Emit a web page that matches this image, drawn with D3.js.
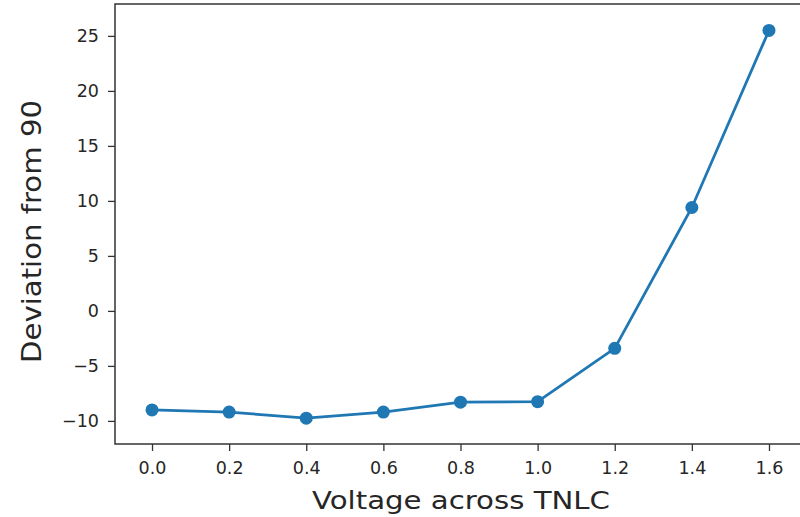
<!DOCTYPE html>
<html>
<head>
<meta charset="utf-8">
<script src="https://cdn.jsdelivr.net/npm/d3@7"></script>
<style>
  html, body { margin: 0; padding: 0; background: #fff; }
  svg { display: block; }
  text { font-family: "DejaVu Sans", sans-serif; }
</style>
</head>
<body>
<svg id="chart" width="800" height="517"></svg>
<script>
const voltages = [0.0, 0.2, 0.4, 0.6, 0.8, 1.0, 1.2, 1.4, 1.6];
const deviations = [-9.0, -9.2, -9.75, -9.2, -8.3, -8.25, -3.4, 9.4, 25.5];
const xTicks = [0.0, 0.2, 0.4, 0.6, 0.8, 1.0, 1.2, 1.4, 1.6];
const yTicks = [-10, -5, 0, 5, 10, 15, 20, 25];
const xLabel = "Voltage across TNLC";
const yLabel = "Deviation from 90";

const svg = d3.select("#chart");
const plotLeft = 115, plotRight = 806, plotTop = 4, plotBottom = 444;

const x = d3.scaleLinear().domain([-0.096, 1.696]).range([plotLeft, plotRight]);
const y = d3.scaleLinear().domain([-12.1, 27.9]).range([plotBottom, plotTop]);

const axisColor = "#333";

// X axis
const xAxis = svg.append("g")
  .attr("transform", `translate(0,${plotBottom})`)
  .call(d3.axisBottom(x).tickValues(xTicks).tickFormat(d3.format(".1f")).tickSize(7).tickPadding(11));
// Y axis
const yAxis = svg.append("g")
  .attr("transform", `translate(${plotLeft},0)`)
  .call(d3.axisLeft(y).tickValues(yTicks).tickFormat(d => d < 0 ? "\u2212" + Math.abs(d) : d).tickSize(7).tickPadding(9));

[xAxis, yAxis].forEach(g => {
  g.select(".domain").remove();
  g.selectAll(".tick line").attr("stroke", axisColor).attr("stroke-width", 1.3);
  g.selectAll(".tick text").attr("fill", "#262626").style("font-size", "17.5px").style("font-family", "DejaVu Sans");
});

// Spines
svg.append("rect")
  .attr("x", plotLeft).attr("y", plotTop)
  .attr("width", plotRight - plotLeft).attr("height", plotBottom - plotTop)
  .attr("fill", "none").attr("stroke", axisColor).attr("stroke-width", 1.5);

// Line
const line = d3.line().x((d, i) => x(voltages[i])).y(d => y(d));
svg.append("path")
  .datum(deviations)
  .attr("d", line)
  .attr("fill", "none")
  .attr("stroke", "#1f77b4")
  .attr("stroke-width", 2.8);

svg.selectAll("circle.pt")
  .data(deviations)
  .enter().append("circle")
  .attr("class", "pt")
  .attr("cx", (d, i) => x(voltages[i]))
  .attr("cy", d => y(d))
  .attr("r", 6.5)
  .attr("fill", "#1f77b4");

// Axis labels
svg.append("text")
  .attr("x", 461).attr("y", 509)
  .attr("text-anchor", "middle")
  .attr("fill", "#262626")
  .style("font-size", "25px")
  .attr("textLength", 298)
  .attr("lengthAdjust", "spacingAndGlyphs")
  .text(xLabel);

svg.append("text")
  .attr("transform", "translate(41,231.5) rotate(-90)")
  .attr("text-anchor", "middle")
  .attr("fill", "#262626")
  .style("font-size", "26px")
  .attr("textLength", 263)
  .attr("lengthAdjust", "spacingAndGlyphs")
  .text(yLabel);
</script>
</body>
</html>
